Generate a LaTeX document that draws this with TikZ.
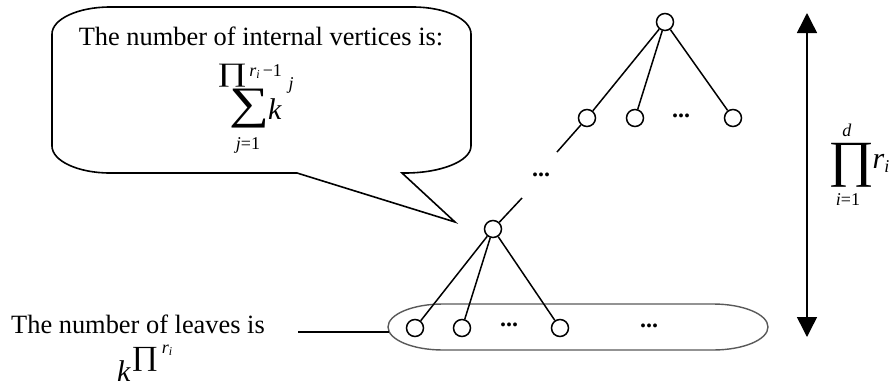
\documentclass[tikz,border=0pt]{standalone}
\usepackage{fontspec}
\setmainfont{Liberation Serif}
\usetikzlibrary{arrows.meta,calc}
\newcommand{\fsz}[1]{\fontsize{#1}{#1}\selectfont}
\tikzset{
  vtx/.style={circle,draw,minimum size=8.5pt,inner sep=0pt,line width=0.75pt,fill=white},
  edge/.style={line width=0.75pt},
  lbl/.style={inner sep=0pt,font=\fsz{13.2pt}},
  dotsnode/.style={inner sep=0pt,font=\fsz{12pt}\bfseries},
  glyph/.style={inner sep=0pt},
}
\begin{document}
\begin{tikzpicture}[x=0.5pt,y=-0.5pt]
\useasboundingbox (0,0) rectangle (891,387);
% callout
\draw[line width=0.8pt] (110,7) -- (413,7)
  arc[start angle=-90,end angle=0,x radius=58,y radius=27] -- (471,146)
  arc[start angle=0,end angle=90,x radius=66,y radius=27] -- (402,173)
  -- (455,222) -- (297,173) -- (110,173)
  arc[start angle=90,end angle=180,x radius=58,y radius=27] -- (52,34)
  arc[start angle=180,end angle=270,x radius=58,y radius=27] -- cycle;
\node[lbl,anchor=base] (ctext) at (261,45) {The number of internal vertices is:};
\node[glyph] (cprod) at (232,76) {\resizebox*{15pt}{11.5pt}{∏}};
\node[glyph,font=\fsz{9pt},anchor=west] (csup) at (249,72) {\textit{r}\raisebox{-0.25ex}{\fsz{6pt}\textit{i}}\,−1};
\node[glyph] (csum) at (249,109) {\resizebox*{20pt}{19.5pt}{∑}};
\node[glyph,font=\fsz{15pt}] (ck) at (275,109) {\textit{k}};
\node[glyph,font=\fsz{9pt}] (cj) at (291,85) {\textit{j}};
\node[glyph,font=\fsz{9pt}] (cj1) at (248,145) {\textit{j}=1};
% leaf container
\draw[line width=0.7pt,draw=black!65] (443,304) -- (713,304)
  arc[start angle=-90,end angle=90,x radius=55,y radius=23] -- (443,350)
  arc[start angle=90,end angle=270,x radius=55,y radius=23] -- cycle;
% tree
\node[vtx] (root) at (665,22) {};
\node[vtx] (c1) at (587,118) {};
\node[vtx] (c2) at (635,118) {};
\node[vtx] (c3) at (733,118) {};
\node[dotsnode] (d1) at (681,116) {...};
\node[vtx] (mid) at (493,229) {};
\node[vtx] (l1) at (415,328) {};
\node[vtx] (l2) at (462,328) {};
\node[vtx] (l3) at (560,328) {};
\node[dotsnode] (dl1) at (509,325) {...};
\node[dotsnode] (dl2) at (649,326) {...};
\coordinate (g1) at (557,152);
\coordinate (g2) at (522,198);
\node[dotsnode] (dm) at (541,175) {...};
\draw[edge] (root) -- (c1);
\draw[edge] (root) -- (c2);
\draw[edge] (root) -- (c3);
\draw[edge] (c1) -- (g1);
\draw[edge] (g2) -- (mid);
\draw[edge] (mid) -- (l1);
\draw[edge] (mid) -- (l2);
\draw[edge] (mid) -- (l3);
% leaves label
\node[lbl,anchor=base] (ltext) at (138,333) {The number of leaves is};
\node[glyph,font=\fsz{15pt},anchor=base] (lk) at (124,381) {\textit{k}};
\node[glyph] (lprod) at (145,359) {\resizebox*{13.5pt}{12pt}{∏}};
\node[glyph,font=\fsz{9pt}] (lr) at (167,350) {\textit{r}\raisebox{-0.25ex}{\fsz{6pt}\textit{i}}};
\coordinate (lstart) at (298,332);
\coordinate (cont) at (389,332);
\draw[edge] (lstart) -- (cont);
% height arrow
\coordinate (atop) at (807,13);
\coordinate (abot) at (807,337);
\draw[edge,{Triangle[width=10pt,length=10pt]}-{Triangle[width=10pt,length=10pt]}] (atop) -- (abot);
\node[glyph] (rprod) at (851,165) {\resizebox*{23pt}{22pt}{∏}};
\node[glyph,font=\fsz{9pt}] (rd) at (847,130) {\textit{d}};
\node[glyph,font=\fsz{9pt}] (ri1) at (848,200) {\textit{i}=1};
\node[glyph,font=\fsz{15pt}] (rr) at (881,163) {\textit{r}\raisebox{-0.3ex}{\fsz{9pt}\textit{i}}};
\end{tikzpicture}
\end{document}
